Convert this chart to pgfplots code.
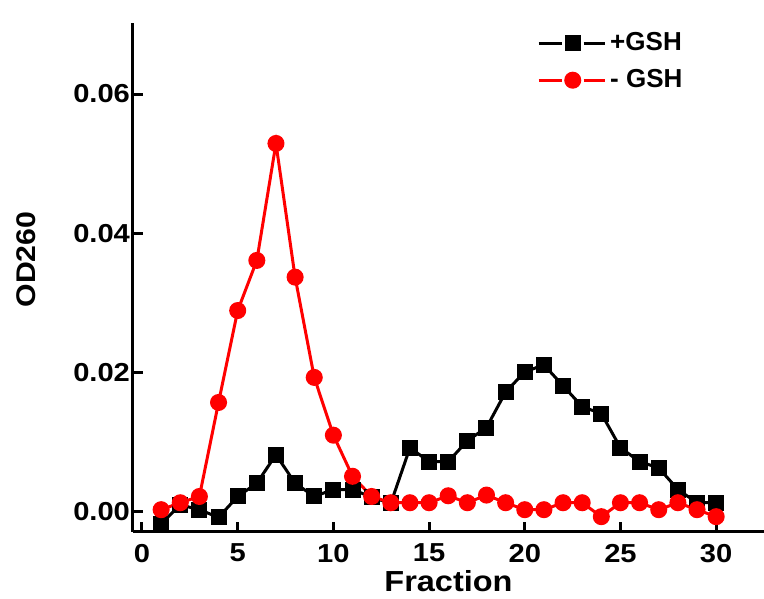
\documentclass[border=0pt]{standalone}
\usepackage{fontspec}
\setmainfont{Liberation Sans}
\newfontfamily\widefont[FakeStretch=1.12]{Liberation Sans}
\usepackage{pgfplots}
\pgfplotsset{compat=1.18}
\usetikzlibrary{calc}

\newcommand{\tickfont}{\widefont\fontsize{13pt}{15pt}\selectfont\bfseries}

\begin{document}
\begin{tikzpicture}
\begin{axis}[
  scale only axis,
  width=315.5pt, height=254.5pt,
  xmin=-0.47, xmax=32.5,
  ymin=-0.0029, ymax=0.0702,
  axis x line*=bottom, axis y line*=left,
  axis line style={line width=1.5pt},
  tick align=inside,
  major tick length=5pt,
  every tick/.style={line width=1.5pt, black},
  xtick={0,5,...,30},
  ytick={0,0.02,0.04,0.06},
  scaled y ticks=false,
  /pgf/number format/assume math mode=true,
  yticklabel style={font=\tickfont, xshift=2pt, /pgf/number format/.cd, fixed, fixed zerofill, precision=2},
  xticklabel style={font=\tickfont, yshift=-2.5pt},
  xlabel={Fraction},
  ylabel={OD260},
  xlabel style={font=\widefont\fontsize{14.5pt}{16pt}\selectfont\bfseries, yshift=3pt},
  ylabel style={font=\widefont\fontsize{13.5pt}{15pt}\selectfont\bfseries, yshift=12pt, xshift=9pt},
  clip=false,
  legend style={at={(axis description cs:0.640,0.99)}, anchor=north west,
    draw=none, fill=none, inner sep=0pt, row sep=4pt,
    font=\fontsize{13pt}{15pt}\selectfont\bfseries, cells={anchor=west}},
  legend image code/.code={
    \draw[#1,mark=none] (0pt,0pt) -- (11.5pt,0pt);
    \draw[#1,mark=none] (22.5pt,0pt) -- (33pt,0pt);
    \draw[#1] plot coordinates {(17pt,0pt)};
  },
]
\addplot[black, line width=1.5pt, mark=square*, mark size=3.25pt, mark options={solid}] coordinates {
  (1,-0.0017) (2,0.0010) (3,0.0003) (4,-0.0008) (5,0.0022) (6,0.0041)
  (7,0.0082) (8,0.0041) (9,0.0022) (10,0.0032) (11,0.0032) (12,0.0021)
  (13,0.0012) (14,0.0092) (15,0.0072) (16,0.0072) (17,0.0102) (18,0.0121)
  (19,0.0172) (20,0.0201) (21,0.0211) (22,0.0181) (23,0.0151) (24,0.0141)
  (25,0.0092) (26,0.0072) (27,0.0063) (28,0.0032) (29,0.0013) (30,0.0013)
};
\addlegendentry{+GSH}
\addplot[red, line width=1.5pt, mark=*, mark size=3.5pt, mark options={solid}] coordinates {
  (1,0.0003) (2,0.0013) (3,0.0022) (4,0.0157) (5,0.0289) (6,0.0361)
  (7,0.0529) (8,0.0337) (9,0.0193) (10,0.0110) (11,0.0051) (12,0.0022)
  (13,0.0013) (14,0.0013) (15,0.0013) (16,0.0023) (17,0.0013) (18,0.0024)
  (19,0.0013) (20,0.0003) (21,0.0003) (22,0.0013) (23,0.0013) (24,-0.0007)
  (25,0.0013) (26,0.0013) (27,0.0003) (28,0.0013) (29,0.0003) (30,-0.0007)
};
\addlegendentry{- GSH}
\end{axis}
\pgfresetboundingbox
\path ($(current axis.south west)+(-66.5pt,-33.5pt)$) rectangle ($(current axis.north east)+(0pt,11.5pt)$);
\end{tikzpicture}
\end{document}
